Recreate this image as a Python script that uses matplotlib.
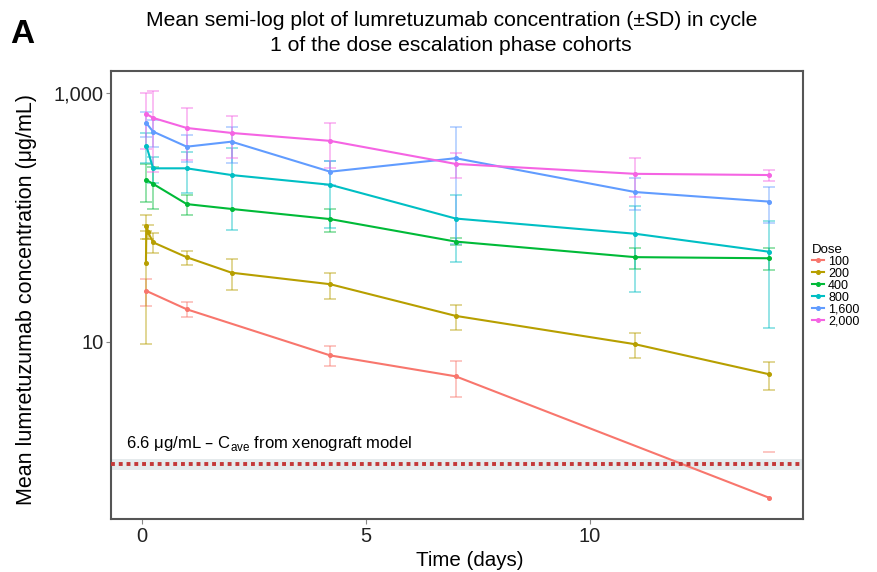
import numpy as np
import matplotlib.pyplot as plt
from matplotlib.lines import Line2D

plt.rcParams['font.family'] = ['Liberation Sans', 'DejaVu Sans']

# dose cohorts and ggplot default hues
doses = ['100', '200', '400', '800', '1,600', '2,000']
colors = ['#F8766D', '#B79F00', '#00BA38', '#00BFC4', '#619CFF', '#F564E3']

# mean concentration (ug/mL) and SD per dose
t_100 = [0.1, 1, 4.2, 7, 14]
mean_100 = [25.7, 18.3, 7.8, 5.3, 0.56]
sd_100 = [6.2, 2.5, 1.4, 1.7, 0.74]

t_200 = [0.09, 0.1, 0.13, 0.25, 1, 2, 4.2, 7, 11, 14]
mean_200 = [43.4, 85.9, 76.9, 63.1, 47.9, 36.0, 29.1, 16.2, 9.6, 5.5]
sd_200 = [33.8, 19, 10, 11.5, 6.3, 10, 7, 3.7, 2.1, 1.35]

t_400 = [0.1, 0.25, 1, 2, 4.2, 7, 11, 14]
mean_400 = [200, 186, 128, 117, 97, 64, 48, 47]
sd_400 = [68, 70, 24, np.nan, 20, 4, 9.3, 9.5]

t_800 = [0.1, 0.25, 1, 2, 4.2, 7, 11, 14]
mean_800 = [375, 248, 248, 219, 183, 98, 74, 53]
sd_800 = [100, 60, 90, 140, 101, 54, 49, 40]

t_1600 = [0.1, 0.25, 1, 2, 4.2, 7, 11, 14]
mean_1600 = [571, 489, 370, 406, 233, 299, 160, 134]
sd_1600 = [132, 120, 90, 130, 50, 238, 46, 43]

t_2000 = [0.1, 0.25, 1, 2, 4.2, 7, 11, 14]
mean_2000 = [678, 630, 523, 477, 412, 269, 224, 219]
sd_2000 = [322, 398, 235, 177, 162, 61, 77, 22]

times = [t_100, t_200, t_400, t_800, t_1600, t_2000]
means = [mean_100, mean_200, mean_400, mean_800, mean_1600, mean_2000]
sds = [sd_100, sd_200, sd_400, sd_800, sd_1600, sd_2000]

cave_line = 1.04  # where the xenograft C_ave reference is drawn
cave_band = (0.94, 1.15)

fig = plt.figure(figsize=(8.78, 5.72), dpi=100)
ax = fig.add_axes([0.1264, 0.0927, 0.7882, 0.7832])
ax.set_yscale('log')

for t, m, s, c in zip(times, means, sds, colors):
    t = np.array(t); m = np.array(m); s = np.array(s)
    ok = ~np.isnan(s) & (m - s > 0)
    ax.errorbar(t[ok], m[ok], yerr=s[ok], fmt='none', ecolor=c, alpha=0.45,
                elinewidth=1.3, capsize=4, capthick=1.3, zorder=2)
    neg = ~np.isnan(s) & (m - s <= 0)
    # lower bound below zero: ggplot keeps only the upper cap on a log axis
    ax.plot(t[neg], (m + s)[neg], ls='none', marker='_', ms=8, mew=1.3,
            color=c, alpha=0.45, zorder=2)
    ax.plot(t, m, color=c, lw=1.5, marker='o', ms=2.6, zorder=3)

ax.axhspan(*cave_band, xmin=0, xmax=1, color='#d5dde0', alpha=0.6, lw=0, zorder=1)
ax.axhline(cave_line, color='#c43838', lw=2.8, ls=(0, (1, 1)), zorder=4)
ax.text(-0.35, 1.42, '6.6 \u03bcg/mL \u2013 C$_{\\mathregular{ave}}$ from xenograft model',
        fontsize=12, va='baseline', ha='left')

ax.set_xlim(-0.69, 14.75)
ax.set_ylim(0.379, 1500)
ax.set_xticks([0, 5, 10])
ax.set_yticks([10, 1000])
ax.set_yticklabels(['10', '1,000'])
ax.minorticks_off()
ax.tick_params(length=3.5, pad=2, color='#888888', labelsize=14.5,
               labelcolor='#222222')
for sp in ax.spines.values():
    sp.set_color('#555555')
    sp.set_linewidth(1.5)

ax.set_xlabel('Time (days)', fontsize=14.8)
ax.set_ylabel('Mean lumretuzumab concentration (\u03bcg/mL)', fontsize=15.5)
ax.xaxis.set_label_coords(0.519, -0.071)
ax.yaxis.set_label_coords(-0.107, 0.49)

fig.suptitle('Mean semi-log plot of lumretuzumab concentration (\u00b1SD) in cycle\n'
             '1 of the dose escalation phase cohorts',
             fontsize=15.2, y=0.98, x=0.514, linespacing=1.4)
fig.text(0.012, 0.924, 'A', fontsize=24, fontweight='bold', va='baseline')

handles = [Line2D([], [], color=c, lw=1.5, marker='o', ms=2.6) for c in colors]
fig.legend(handles, doses, title='Dose', loc='upper left',
           bbox_to_anchor=(0.919, 0.583), frameon=False, fontsize=9,
           title_fontsize=9.5, handlelength=1.0, handletextpad=0.3,
           labelspacing=0.0, borderaxespad=0, alignment='left')

fig.savefig('out.png', dpi=100)
